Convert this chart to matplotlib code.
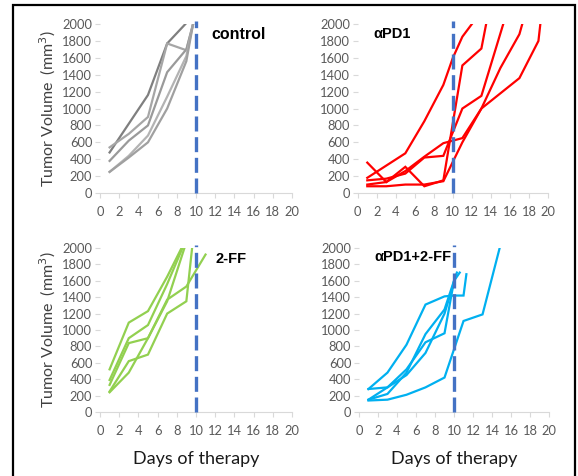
import matplotlib.pyplot as plt
from matplotlib.patches import Rectangle

# control (gray)
ctrl_x = [[1, 3, 5, 7, 8.9],
          [1, 3, 5, 7, 9, 9.7],
          [1, 3, 5, 7, 9, 9.7],
          [1, 3, 5, 7, 9, 9.7],
          [1, 3, 5, 7, 9, 9.7]]
ctrl_y = [[480, 820, 1160, 1770, 2000],
          [540, 700, 900, 1770, 1690, 2000],
          [380, 620, 800, 1430, 1700, 2000],
          [250, 440, 680, 1140, 1620, 2000],
          [250, 420, 600, 1000, 1560, 2000]]
ctrl_colors = ['#7f7f7f', '#a6a6a6', '#9a9a9a', '#b3b3b3', '#a0a0a0']

# aPD1 (red)
pd1_x = [[1, 5, 7, 9, 10, 11, 12],
         [1, 3, 5, 7, 9, 11, 13, 13.5],
         [1, 3, 5, 7, 9, 11, 13, 15.3],
         [1, 3, 5, 7, 9, 11, 13, 15, 17, 17.3],
         [1, 3, 5, 7, 9, 11, 13, 15, 17, 19, 19.2]]
pd1_y = [[180, 470, 850, 1280, 1600, 1850, 2000],
         [360, 130, 310, 80, 150, 1510, 1710, 2000],
         [150, 170, 230, 420, 440, 1000, 1150, 2000],
         [100, 130, 260, 430, 590, 650, 1000, 1480, 1880, 2000],
         [80, 80, 100, 100, 140, 600, 1000, 1180, 1360, 1800, 2000]]

# 2-FF (green)
ff_x = [[1, 3, 5, 7, 8.5],
        [1, 3, 5, 7, 8.6],
        [1, 3, 5, 7, 9, 11],
        [1, 3, 5, 7, 9, 9.6],
        [1, 3, 5, 7, 8.8]]
ff_y = [[520, 1090, 1230, 1650, 2000],
        [390, 900, 1060, 1560, 2000],
        [330, 840, 900, 1370, 1530, 1920],
        [250, 620, 700, 1200, 1350, 2000],
        [240, 480, 900, 1350, 2000]]

# aPD1+2-FF (cyan)
combo_x = [[1, 3, 5, 7, 9, 10, 11, 11.3],
           [1, 3, 5, 7, 9, 10, 10.6],
           [1, 3, 5, 7, 9, 10.3],
           [1, 3, 5, 7, 9, 10],
           [1, 3, 5, 7, 9, 11, 13, 14.8]]
combo_y = [[280, 480, 820, 1310, 1410, 1420, 1420, 1680],
           [280, 300, 520, 850, 960, 1600, 1700],
           [150, 300, 450, 720, 1200, 1700],
           [150, 220, 480, 950, 1250, 1600],
           [140, 150, 210, 300, 420, 1110, 1190, 2000]]

x_ticks = list(range(0, 21, 2))
y_ticks = list(range(0, 2001, 200))

fig = plt.figure(figsize=(5.78, 4.76), dpi=100)
fig.patches.append(Rectangle((13 / 578, -0.01), (575 - 13) / 578, 1 - 5 / 476 + 0.01,
                             transform=fig.transFigure, fill=False,
                             edgecolor='black', linewidth=1.6))

panels = [
    ([0.173, 0.5945, 0.332, 0.355], ctrl_x, ctrl_y, ctrl_colors, 'control', (0.58, 0.985), False),
    ([0.619, 0.5945, 0.329, 0.355], pd1_x, pd1_y, ['#ff0000'] * 5, 'αPD1', (0.08, 0.985), False),
    ([0.173, 0.1345, 0.332, 0.3445], ff_x, ff_y, ['#92d050'] * 5, '2-FF', (0.6, 0.975), True),
    ([0.621, 0.1345, 0.329, 0.3445], combo_x, combo_y, ['#00b0f0'] * 5, 'αPD1+2-FF', (0.08, 0.985), True),
]

for rect, xs, ys, cols, title, tpos, bottom in panels:
    ax = fig.add_axes(rect)
    for x, y, c in zip(xs, ys, cols):
        ax.plot(x, y, color=c, linewidth=1.6, solid_joinstyle='miter')
    ax.plot([10, 10], [0, 2040], color='#4472c4', linewidth=2.4,
            linestyle=(0, (4.5, 1.7)), clip_on=False, zorder=5)
    ax.set_xlim(0, 20)
    ax.set_ylim(0, 2000)
    ax.set_xticks(x_ticks)
    ax.set_yticks(y_ticks)
    for s in ['top', 'right', 'left']:
        ax.spines[s].set_visible(False)
    ax.spines['bottom'].set_color('#d9d9d9')
    ax.tick_params(axis='both', colors='#d9d9d9', labelcolor='#595959',
                   labelsize=9.3, length=3.5)
    ax.tick_params(axis='x', pad=6)
    ax.tick_params(axis='y', pad=2)
    for lab in ax.get_xticklabels() + ax.get_yticklabels():
        lab.set_family('Lato')
    ax.text(tpos[0], tpos[1], title, transform=ax.transAxes, ha='left', va='top',
            fontsize=11.5 if title == 'control' else 10.5, fontweight='bold',
            family='Liberation Sans')
    if rect[0] < 0.5:
        ax.set_ylabel('Tumor Volume  (mm$^3$)', fontsize=11.5, color='#404040',
                      family='Lato', labelpad=3)
    if bottom:
        ax.set_xlabel('Days of therapy', fontsize=13, color='#1a1a1a',
                      family='Lato', labelpad=10)

fig.savefig('out.png', dpi=100)
